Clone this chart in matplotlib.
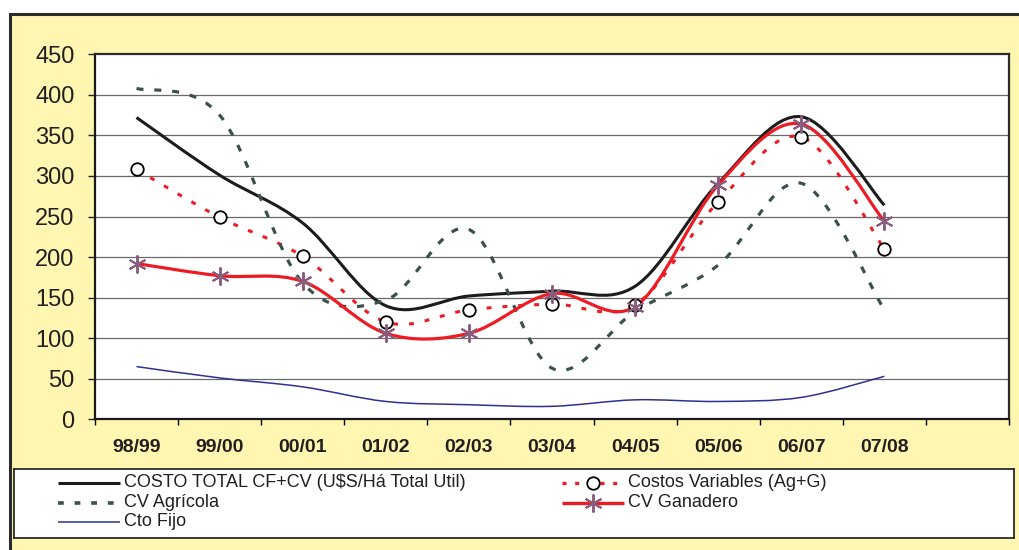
import matplotlib
matplotlib.use('Agg')
import matplotlib.pyplot as plt
import numpy as np
from matplotlib.path import Path
from matplotlib.patches import PathPatch, Rectangle
from matplotlib.lines import Line2D

plt.rcParams['font.family'] = ['Liberation Sans', 'DejaVu Sans']

# ---------------- data ----------------
categories = ['98/99', '99/00', '00/01', '01/02', '02/03', '03/04', '04/05', '05/06', '06/07', '07/08']
costo_total = [372, 301, 242, 140, 152, 158, 164, 291, 373, 264]
costos_variables = [308, 249, 201, 120, 135, 142, 141, 268, 348, 210]
cv_agricola = [408, 375, 168, 147, 234, 63, 133, 190, 291, 135]
cv_ganadero = [192, 177, 170, 106, 106, 155, 139, 289, 364, 244]
cto_fijo = [65, 51, 40, 22, 18, 16, 24, 22, 27, 53]

labels = ['COSTO TOTAL CF+CV (U$S/Há Total Util)', 'Costos Variables (Ag+G)',
          'CV Agrícola', 'CV Ganadero', 'Cto Fijo']
y_ticks = [0, 50, 100, 150, 200, 250, 300, 350, 400, 450]

# ---------------- style ----------------
YELLOW = '#FFF6B1'
BLACK = '#1c1c1c'
RED = '#ED1C24'
GREEN = '#3B5249'
BLUE = '#2E3192'
STAR = '#8A5C7E'

W, H = 1019, 550
fig = plt.figure(figsize=(W / 100, H / 100), dpi=100)
fig.patch.set_facecolor('white')

# outer yellow frame (extends past right/bottom edges)
fig.patches.append(Rectangle((10 / W, -0.1), 1.2, (1 - 14 / H) + 0.1,
                             transform=fig.transFigure, facecolor=YELLOW,
                             edgecolor='#2b2b2b', linewidth=2.2, zorder=-5))


def smooth_path(xs, ys):
    pts = np.column_stack([xs, ys]).astype(float)
    n = len(pts)
    verts = [pts[0]]
    codes = [Path.MOVETO]
    for i in range(n - 1):
        p0 = pts[i - 1] if i > 0 else pts[i]
        p1 = pts[i]
        p2 = pts[i + 1]
        p3 = pts[i + 2] if i + 2 < n else pts[i + 1]
        c1 = p1 + (p2 - p0) / 6.0
        c2 = p2 - (p3 - p1) / 6.0
        verts += [c1, c2, p2]
        codes += [Path.CURVE4] * 3
    return Path(verts, codes)


# ---------------- main axes ----------------
L, R, T, B = 95, 1009, 54.3, 419.3
ax = fig.add_axes([L / W, 1 - B / H, (R - L) / W, (B - T) / H])
ax.set_zorder(1)
ax.set_facecolor('white')
ax.set_xlim(-0.5, 10.5)
ax.set_ylim(0, 450)

for v in y_ticks[1:-1]:
    ax.axhline(v, color='#6a6a6a', lw=0.9, zorder=1)

x = np.arange(len(categories))

series = [
    (costo_total, dict(edgecolor=BLACK, lw=2.2, ls='-')),
    (costos_variables, dict(edgecolor=RED, lw=2.2, ls=(0, (1.6, 3.6)))),
    (cv_agricola, dict(edgecolor=GREEN, lw=2.3, ls=(0, (2.2, 3.4)))),
    (cv_ganadero, dict(edgecolor=RED, lw=2.3, ls='-')),
    (cto_fijo, dict(edgecolor=BLUE, lw=1.1, ls='-')),
]
for i, (vals, kw) in enumerate(series):
    patch = PathPatch(smooth_path(x, vals), fill=False, capstyle='butt',
                      joinstyle='round', zorder=3 + i, **kw)
    ax.add_patch(patch)

ax.plot(x, costos_variables, ls='none', marker='o', ms=9, mfc='white',
        mec='black', mew=1.3, zorder=10)
ax.plot(x, cv_ganadero, ls='none', marker=(6, 2, 0), ms=13, mec=STAR,
        mew=1.4, zorder=11)

# axes styling
for s in ['left', 'bottom']:
    ax.spines[s].set_linewidth(1.6)
    ax.spines[s].set_color('#1a1a1a')
for s in ['top', 'right']:
    ax.spines[s].set_linewidth(1.6)
    ax.spines[s].set_color('#2b2b2b')

ax.set_yticks(y_ticks)
ax.set_yticklabels([str(v) for v in y_ticks], fontsize=17, color='#231f20')
ax.tick_params(axis='y', length=5.3, width=1.0, pad=9.5, colors='#231f20')

ax.set_xticks(np.arange(-0.5, 11, 1.0))
ax.set_xticklabels([])
ax.tick_params(axis='x', which='major', length=4.5, width=1.0)
ax.set_xticks(x, minor=True)
ax.set_xticklabels(categories, minor=True, fontsize=14, fontweight='bold',
                   color='#231f20')
ax.tick_params(axis='x', which='minor', length=0, pad=14)

# ---------------- legend box ----------------
lx0, lx1, ly0, ly1 = 14, 1014, 469, 538
lax = fig.add_axes([lx0 / W, 1 - ly1 / H, (lx1 - lx0) / W, (ly1 - ly0) / H])
lax.set_zorder(1)
lax.set_xlim(lx0, lx1)
lax.set_ylim(ly1, ly0)
lax.set_facecolor('white')
lax.set_xticks([])
lax.set_yticks([])
for s in lax.spines.values():
    s.set_linewidth(1.2)
    s.set_color('#1a1a1a')

entries = [
    (labels[0], 58, 482.7, dict(color=BLACK, lw=2.2, ls='-'), None),
    (labels[2], 58, 502.7, dict(color=GREEN, lw=2.6, ls=(0, (1.6, 3.0))), None),
    (labels[4], 58, 521.7, dict(color=BLUE, lw=1.1, ls='-'), None),
    (labels[1], 562, 482.7, dict(color=RED, lw=2.4, ls=(0, (1.2, 2.6))),
     dict(marker='o', ms=9, mfc='white', mec='black', mew=1.3)),
    (labels[3], 562, 502.7, dict(color=RED, lw=2.4, ls='-'),
     dict(marker=(6, 2, 0), ms=13, mec=STAR, mew=1.4)),
]
for text, hx, hy, lkw, mkw in entries:
    lax.add_line(Line2D([hx, hx + 62], [hy, hy], solid_capstyle='butt',
                        dash_capstyle='butt', **lkw))
    if mkw:
        lax.add_line(Line2D([hx + 31], [hy], ls='none', **mkw))
    lax.text(hx + 66, hy, text, fontsize=13, color='#231f20',
             va='center', ha='left')

fig.savefig('out.png', dpi=100, facecolor='white')
